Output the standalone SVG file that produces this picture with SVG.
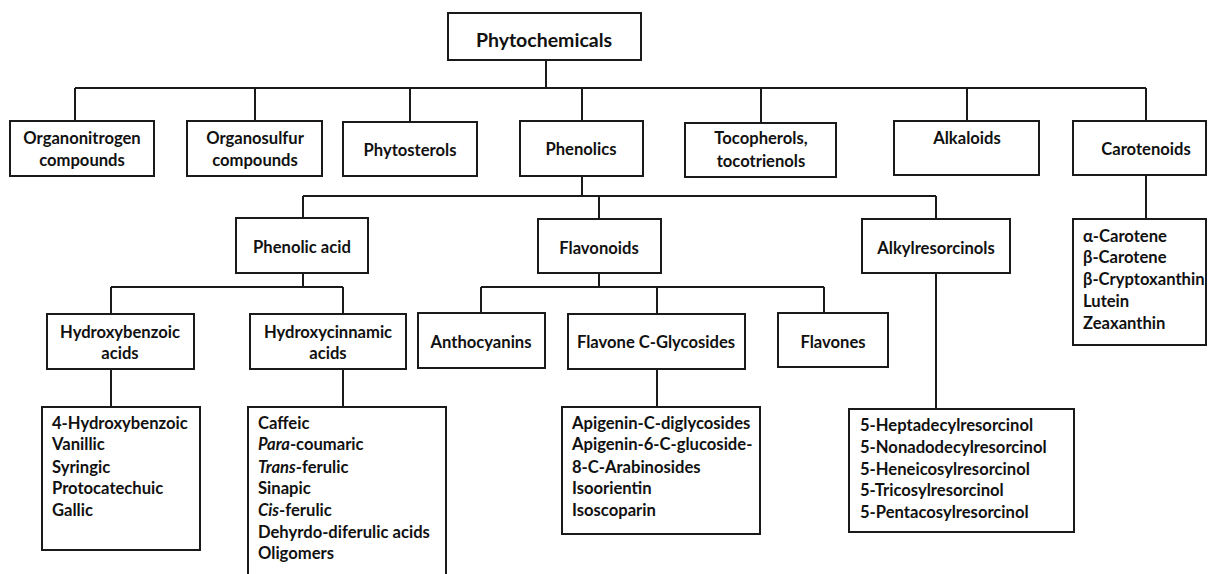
<svg xmlns="http://www.w3.org/2000/svg" width="1208" height="574" viewBox="0 0 1208 574">
<style>
.b{fill:#fff;stroke:#1a1a1a;stroke-width:2}
.c{fill:none;stroke:#1a1a1a;stroke-width:2}
text{font-family:Lato,"Liberation Sans",sans-serif;font-weight:700;font-size:16.6px;fill:#111;dominant-baseline:central}
.m{text-anchor:middle}
.i{font-style:italic}
</style>
<rect width="1208" height="574" fill="#fff"/>
<g id="connectors">
<path class="c" d="M546 60V88M75 88H1146M75 88V121M255 88V121M410 88V121M582 88V121M761 88V123M967 88V121M1146 88V121"/>
<path class="c" d="M582 176V196M303 196H936M303 196V218M599 196V219M936 196V219"/>
<path class="c" d="M303 273V287M111 287H343M111 287V314M343 287V314"/>
<path class="c" d="M599 273V287M481 287H824M481 287V313M657 287V314M824 287V313"/>
<path class="c" d="M111 369V407M343 369V407M657 369V407M936 273V409M1146 175V219"/>
</g>
<g id="phytochemicals"><rect class="b" x="448" y="13" width="193" height="47"/><text class="m" x="544" y="39" style="font-size:19.5px">Phytochemicals</text></g>
<g id="organonitrogen"><rect class="b" x="10" y="121" width="144" height="55"/><text class="m" x="82" y="138">Organonitrogen</text><text class="m" x="82" y="160">compounds</text></g>
<g id="organosulfur"><rect class="b" x="187" y="121" width="135" height="55"/><text class="m" x="255" y="138">Organosulfur</text><text class="m" x="255" y="160">compounds</text></g>
<g id="phytosterols"><rect class="b" x="343" y="122" width="134" height="54"/><text class="m" x="410" y="150">Phytosterols</text></g>
<g id="phenolics"><rect class="b" x="520" y="121" width="123" height="55"/><text class="m" x="581" y="149">Phenolics</text></g>
<g id="tocopherols"><rect class="b" x="685" y="123" width="151" height="54"/><text class="m" x="761" y="138">Tocopherols,</text><text class="m" x="761" y="161">tocotrienols</text></g>
<g id="alkaloids"><rect class="b" x="894" y="121" width="145" height="54"/><text class="m" x="967" y="138">Alkaloids</text></g>
<g id="carotenoids"><rect class="b" x="1073" y="121" width="133" height="54"/><text class="m" x="1146" y="149">Carotenoids</text></g>
<g id="phenolic-acid"><rect class="b" x="236" y="218" width="132" height="55"/><text class="m" x="302" y="247">Phenolic acid</text></g>
<g id="flavonoids"><rect class="b" x="538" y="219" width="123" height="54"/><text class="m" x="599" y="248">Flavonoids</text></g>
<g id="alkylresorcinols"><rect class="b" x="862" y="219" width="148" height="54"/><text class="m" x="936" y="248">Alkylresorcinols</text></g>
<g id="carotenoid-list"><rect class="b" x="1073" y="219" width="133" height="126"/>
<text x="1083" y="236">α-Carotene</text><text x="1083" y="257">β-Carotene</text><text x="1083" y="279">β-Cryptoxanthin</text><text x="1083" y="301">Lutein</text><text x="1083" y="323">Zeaxanthin</text></g>
<g id="hydroxybenzoic"><rect class="b" x="47" y="314" width="147" height="55"/><text class="m" x="120" y="332">Hydroxybenzoic</text><text class="m" x="120" y="353">acids</text></g>
<g id="hydroxycinnamic"><rect class="b" x="250" y="314" width="156" height="55"/><text class="m" x="328" y="332">Hydroxycinnamic</text><text class="m" x="328" y="353">acids</text></g>
<g id="anthocyanins"><rect class="b" x="418" y="313" width="127" height="55"/><text class="m" x="481" y="342">Anthocyanins</text></g>
<g id="flavone-c-glycosides"><rect class="b" x="568" y="314" width="177" height="55"/><text class="m" x="656" y="342">Flavone C-Glycosides</text></g>
<g id="flavones"><rect class="b" x="778" y="313" width="110" height="54"/><text class="m" x="833" y="342">Flavones</text></g>
<g id="hydroxybenzoic-list"><rect class="b" x="42" y="407" width="158" height="143"/>
<text x="52" y="423">4-Hydroxybenzoic</text><text x="52" y="444">Vanillic</text><text x="52" y="467">Syringic</text><text x="52" y="488">Protocatechuic</text><text x="52" y="510">Gallic</text></g>
<g id="hydroxycinnamic-list"><rect class="b" x="248" y="407" width="198" height="190"/>
<text x="258" y="423">Caffeic</text><text x="258" y="444"><tspan class="i">Para</tspan>-coumaric</text><text x="258" y="467"><tspan class="i">Trans</tspan>-ferulic</text><text x="258" y="488">Sinapic</text><text x="258" y="510"><tspan class="i">Cis</tspan>-ferulic</text><text x="258" y="532">Dehyrdo-diferulic acids</text><text x="258" y="553">Oligomers</text></g>
<g id="flavone-list"><rect class="b" x="562" y="407" width="198" height="127"/>
<text x="572" y="423">Apigenin-C-diglycosides</text><text x="572" y="444">Apigenin-6-C-glucoside-</text><text x="572" y="467">8-C-Arabinosides</text><text x="572" y="488">Isoorientin</text><text x="572" y="510">Isoscoparin</text></g>
<g id="alkylresorcinol-list"><rect class="b" x="849" y="409" width="225" height="123"/>
<text x="860" y="425">5-Heptadecylresorcinol</text><text x="860" y="447">5-Nonadodecylresorcinol</text><text x="860" y="469">5-Heneicosylresorcinol</text><text x="860" y="490">5-Tricosylresorcinol</text><text x="860" y="512">5-Pentacosylresorcinol</text></g>
</svg>
